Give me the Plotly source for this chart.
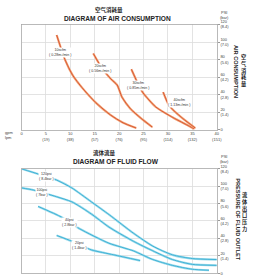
import plotly.graph_objects as go

# ---------------- data ----------------
gpm_ticks = [0, 5, 10, 15, 20, 25, 30, 35, 40]
lpm_ticks = ["", "(19)", "(38)", "(57)", "(76)", "(95)", "(114)", "(132)", "(151)"]
psi_ticks = [0, 20, 40, 60, 80, 100, 120]
bar_ticks = ["", "(1.4)", "(2.8)", "(4.2)", "(5.6)", "(7.0)", "(8.4)"]

# Air consumption curves (gpm, psi)
air_names = ["10scfm", "20scfm", "30scfm", "40scfm"]
air_m3 = ["0.28", "0.56", "0.85", "1.13"]
air_10_gpm = [7.2, 8.9, 10.5, 12.4, 15.2, 18.2, 20.8, 23.5]
air_10_psi = [108, 80, 62, 48, 31, 17, 8, 2]
air_20_gpm = [14.7, 16.5, 18.3, 19.6, 20.6, 22.3, 24.5, 26.8]
air_20_psi = [87, 70, 58, 51, 37, 24, 13, 3]
air_30_gpm = [22.5, 23.9, 24.9, 27.5, 31.0, 34.4, 35.4]
air_30_psi = [69, 52, 42, 26, 14, 4, 1]
air_40_gpm = [29.0, 30.0, 30.8, 33.0, 35.6]
air_40_psi = [43, 30, 24, 13, 2]
air_label_gpm = [7.8, 16.1, 23.9, 32.2]
air_label_psi = [88, 70, 50, 31]

# Fluid flow curves (gpm, psi)
flow_names = ["120psi", "100psi", "40psi", "20psi"]
flow_bar = ["8.4bar", "7bar", "2.8bar", "1.4bar"]
flow_120_gpm = [0, 3.4, 7.2, 10.3, 14.3, 18.0, 22.9, 26.9, 30.9, 35.0, 40.0]
flow_120_psi = [120, 114, 107, 98, 82, 67, 46, 31, 21, 16.7, 15.6]
flow_100_gpm = [0, 2.4, 7.2, 10.3, 14.3, 17.9, 22.9, 26.9, 30.9, 35.0, 40.0]
flow_100_psi = [98, 95.6, 87.8, 82, 68, 53, 36.7, 25.6, 15.6, 10, 8.9]
flow_40_gpm = [3.4, 8.2, 11.9, 17.9, 22.9, 26.9, 30.9, 35.0, 38.4]
flow_40_psi = [76.7, 64.4, 51, 34.4, 25.6, 15.6, 8.9, 4.4, 3.3]
flow_20_gpm = [7.2, 10.3, 14.3, 18.9, 24.3]
flow_20_psi = [43.3, 36.7, 26.7, 21, 14.4]
flow_label_gpm = [5.2, 4.2, 9.8, 11.9]
flow_label_psi = [111, 93, 58, 32]

# ---------------- figure ----------------
W, H = 255, 279
def py(px):
    return 1 - px / H

fig = go.Figure()

air_series = [(air_10_gpm, air_10_psi), (air_20_gpm, air_20_psi),
              (air_30_gpm, air_30_psi), (air_40_gpm, air_40_psi)]
for gx, gy in air_series:
    fig.add_trace(go.Scatter(x=gx, y=gy, mode="lines", xaxis="x", yaxis="y",
                             line=dict(color="#f3a77a", width=2.2, shape="spline", smoothing=0.6),
                             hoverinfo="skip", showlegend=False))
    fig.add_trace(go.Scatter(x=gx, y=gy, mode="lines", xaxis="x", yaxis="y",
                             line=dict(color="#d4502f", width=0.9, shape="spline", smoothing=0.6),
                             hoverinfo="skip", showlegend=False))

flow_series = [(flow_120_gpm, flow_120_psi), (flow_100_gpm, flow_100_psi),
               (flow_40_gpm, flow_40_psi), (flow_20_gpm, flow_20_psi)]
for gx, gy in flow_series:
    fig.add_trace(go.Scatter(x=gx, y=gy, mode="lines", xaxis="x2", yaxis="y2",
                             line=dict(color="#9edcec", width=2.2, shape="spline", smoothing=0.6),
                             hoverinfo="skip", showlegend=False))
    fig.add_trace(go.Scatter(x=gx, y=gy, mode="lines", xaxis="x2", yaxis="y2",
                             line=dict(color="#35add2", width=0.9, shape="spline", smoothing=0.6),
                             hoverinfo="skip", showlegend=False))

xdom = [21 / W, 221 / W]
axis_common = dict(showgrid=True, gridcolor="#dcdcdc", gridwidth=0.8,
                   showline=True, linecolor="#a8a8a8", linewidth=0.8, mirror=True,
                   zeroline=False, fixedrange=True)
tick_font = dict(family="Liberation Sans, Arial, sans-serif", size=4, color="#444")

x_text = [f"{g}<br>{l}" for g, l in zip(gpm_ticks, lpm_ticks)]
y_text = [f"{p}<br>{b}" if b else f"{p}" for p, b in zip(psi_ticks, bar_ticks)]

fig.update_layout(
    width=W, height=H, autosize=False,
    margin=dict(l=0, r=0, t=0, b=0),
    paper_bgcolor="white", plot_bgcolor="white",
    xaxis=dict(domain=xdom, anchor="y", range=[0, 40], tickmode="array",
               tickvals=gpm_ticks, ticktext=x_text, tickfont=tick_font,
               ticks="", **axis_common),
    yaxis=dict(domain=[py(128), py(20)], anchor="x", side="right", range=[0, 120],
               tickmode="array", tickvals=psi_ticks, ticktext=y_text, tickfont=tick_font,
               ticks="outside", ticklen=2, tickcolor="#999", **axis_common),
    xaxis2=dict(domain=xdom, anchor="y2", range=[0, 40], tickmode="array",
                tickvals=gpm_ticks, showticklabels=False, ticks="", **axis_common),
    yaxis2=dict(domain=[py(275), py(168)], anchor="x2", side="right", range=[0, 120],
                tickmode="array", tickvals=psi_ticks, ticktext=y_text, tickfont=tick_font,
                ticks="outside", ticklen=2, tickcolor="#999", **axis_common),
)

lab_font = dict(family="Liberation Sans, Arial, sans-serif", size=3.6, color="#333")
for name, m3, gx, gy in zip(air_names, air_m3, air_label_gpm, air_label_psi):
    fig.add_annotation(x=gx, y=gy, xref="x", yref="y", text=f"{name}<br>( {m3}m³/min )",
                       showarrow=False, font=lab_font, bgcolor="white", borderpad=0)
for name, b, gx, gy in zip(flow_names, flow_bar, flow_label_gpm, flow_label_psi):
    fig.add_annotation(x=gx, y=gy, xref="x2", yref="y2", text=f"{name}<br>( {b} )",
                       showarrow=False, font=lab_font, bgcolor="white", borderpad=0)

cjk = "Noto Sans CJK SC"
en = "Liberation Sans, Arial, sans-serif"
def ann(text, x, y, size, family=en, color="#222", angle=0, bold=False):
    fig.add_annotation(x=x / W, y=py(y), xref="paper", yref="paper",
                       text=f"<b>{text}</b>" if bold else text, showarrow=False,
                       textangle=angle, font=dict(family=family, size=size, color=color),
                       xanchor="center", yanchor="middle")

# titles
ann("空气消耗量", 111, 5, 5.5, cjk, bold=True)
ann("DIAGRAM OF AIR CONSUMPTION", 119, 14, 6.6, bold=True)
ann("流体流量", 106, 152, 5.5, cjk, bold=True)
ann("DIAGRAM OF FLUID FLOW", 118, 161, 6.6, bold=True)

# right side headers
ann("PSI<br>(bar)", 229, 10, 4, color="#444")
ann("PSI<br>(bar)", 229, 158, 4, color="#444")
ann("AIR CONSUMPTION", 240, 68, 5.6, angle=90, bold=True)
ann("空<br>气<br>消<br>耗<br>量", 249, 67, 5.2, cjk, bold=True)
ann("PRESSURE OF FLUID OUTLET", 242, 220, 5.6, angle=90, bold=True)
ann("流<br>体<br>出<br>口<br>压<br>力", 250, 212, 5.2, cjk, bold=True)

# x-axis unit labels
ann("gpm", 8, 131, 4, color="#444")
ann("lpm", 8, 135.5, 4, color="#444")

fig.write_html("out.html", config={"displayModeBar": False, "staticPlot": True},
               post_script="document.body.style.margin='0';document.body.style.overflow='hidden';")
